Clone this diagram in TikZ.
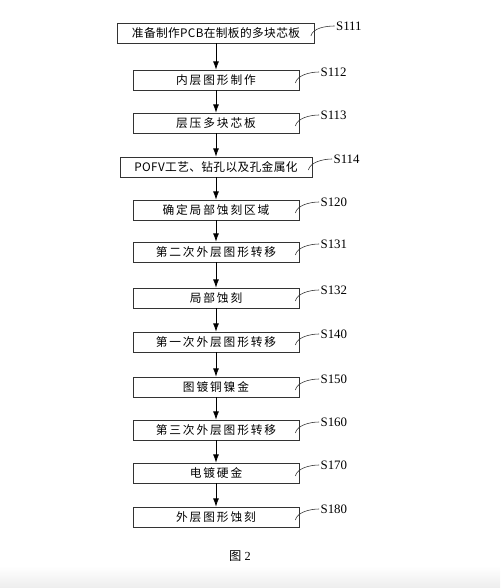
\documentclass[tikz,border=0pt]{standalone}
\usepackage{fontspec}
\usepackage{tikz}
\setmainfont{Liberation Serif}
\newfontfamily\cjkfont[LetterSpace=16]{Noto Sans CJK SC}
\newfontfamily\cjktight[LetterSpace=3]{Noto Sans CJK SC}
\usetikzlibrary{arrows.meta}

\begin{document}
\begin{tikzpicture}[x=0.03cm, y=-0.03cm,
        stepbox/.style={draw=black!80, line width=0.6pt, inner sep=0pt,
                        minimum width=4.98cm, minimum height=0.6cm,
                        font=\cjkfont\fontsize{10}{11}\selectfont},
        widebox/.style={stepbox, font=\cjktight\fontsize{10}{11}\selectfont},
        steplabel/.style={anchor=west, inner sep=0pt, font=\fontsize{11}{12}\selectfont},
        flow/.style={draw=black, line width=0.6pt,
                     -{Latex[length=7pt,width=5pt]}},
        leader/.style={draw=black!80, line width=0.5pt}]
    \useasboundingbox (0,0) rectangle (500,588);
    \shade[top color=white, bottom color=black!7] (0,566) rectangle (500,588);

    % steps
    \node[widebox, minimum width=5.91cm] (b1)  at (216,33)  {准备制作PCB在制板的多块芯板};
    \node[stepbox]                       (b2)  at (216,80)  {内层图形制作};
    \node[stepbox]                       (b3)  at (216,123) {层压多块芯板};
    \node[widebox, minimum width=5.76cm] (b4)  at (216,167) {POFV工艺、钻孔以及孔金属化};
    \node[stepbox]                       (b5)  at (216,210) {确定局部蚀刻区域};
    \node[stepbox]                       (b6)  at (216,252) {第二次外层图形转移};
    \node[stepbox]                       (b7)  at (216,298) {局部蚀刻};
    \node[stepbox]                       (b8)  at (216,342) {第一次外层图形转移};
    \node[stepbox]                       (b9)  at (216,387) {图镀铜镍金};
    \node[stepbox]                       (b10) at (216,430) {第三次外层图形转移};
    \node[stepbox]                       (b11) at (216,473) {电镀硬金};
    \node[stepbox]                       (b12) at (216,517) {外层图形蚀刻};

    % step numbers
    \node[steplabel] (l1)  at ([shift={(21,-7)}]b1.east)  {S111};
    \node[steplabel] (l2)  at ([shift={(21,-8)}]b2.east)  {S112};
    \node[steplabel] (l3)  at ([shift={(21,-8)}]b3.east)  {S113};
    \node[steplabel] (l4)  at ([shift={(21,-8)}]b4.east)  {S114};
    \node[steplabel] (l5)  at ([shift={(21,-8)}]b5.east)  {S120};
    \node[steplabel] (l6)  at ([shift={(21,-8)}]b6.east)  {S131};
    \node[steplabel] (l7)  at ([shift={(21,-8)}]b7.east)  {S132};
    \node[steplabel] (l8)  at ([shift={(21,-8)}]b8.east)  {S140};
    \node[steplabel] (l9)  at ([shift={(21,-8)}]b9.east)  {S150};
    \node[steplabel] (l10) at ([shift={(21,-8)}]b10.east) {S160};
    \node[steplabel] (l11) at ([shift={(21,-8)}]b11.east) {S170};
    \node[steplabel] (l12) at ([shift={(21,-8)}]b12.east) {S180};

    % leaders
    \draw[leader] ([shift={(-4,3)}]b1.east)  .. controls +(2,-8) and +(-9,0) .. ([xshift=-1pt]l1.west);
    \draw[leader] ([shift={(-4,3)}]b2.east)  .. controls +(2,-8) and +(-9,0) .. ([xshift=-1pt]l2.west);
    \draw[leader] ([shift={(-4,3)}]b3.east)  .. controls +(2,-8) and +(-9,0) .. ([xshift=-1pt]l3.west);
    \draw[leader] ([shift={(-4,3)}]b4.east)  .. controls +(2,-8) and +(-9,0) .. ([xshift=-1pt]l4.west);
    \draw[leader] ([shift={(-4,3)}]b5.east)  .. controls +(2,-8) and +(-9,0) .. ([xshift=-1pt]l5.west);
    \draw[leader] ([shift={(-4,3)}]b6.east)  .. controls +(2,-8) and +(-9,0) .. ([xshift=-1pt]l6.west);
    \draw[leader] ([shift={(-4,3)}]b7.east)  .. controls +(2,-8) and +(-9,0) .. ([xshift=-1pt]l7.west);
    \draw[leader] ([shift={(-4,3)}]b8.east)  .. controls +(2,-8) and +(-9,0) .. ([xshift=-1pt]l8.west);
    \draw[leader] ([shift={(-4,3)}]b9.east)  .. controls +(2,-8) and +(-9,0) .. ([xshift=-1pt]l9.west);
    \draw[leader] ([shift={(-4,3)}]b10.east) .. controls +(2,-8) and +(-9,0) .. ([xshift=-1pt]l10.west);
    \draw[leader] ([shift={(-4,3)}]b11.east) .. controls +(2,-8) and +(-9,0) .. ([xshift=-1pt]l11.west);
    \draw[leader] ([shift={(-4,3)}]b12.east) .. controls +(2,-8) and +(-9,0) .. ([xshift=-1pt]l12.west);

    % arrows
    \draw[flow] (b1)  -- (b2);
    \draw[flow] (b2)  -- (b3);
    \draw[flow] (b3)  -- (b4);
    \draw[flow] (b4)  -- (b5);
    \draw[flow] (b5)  -- (b6);
    \draw[flow] (b6)  -- (b7);
    \draw[flow] (b7)  -- (b8);
    \draw[flow] (b8)  -- (b9);
    \draw[flow] (b9)  -- (b10);
    \draw[flow] (b10) -- (b11);
    \draw[flow] (b11) -- (b12);

    \node[font=\fontsize{10.5}{12}\selectfont] (cap) at (240,556) {{\cjktight 图} 2};
\end{tikzpicture}
\end{document}
